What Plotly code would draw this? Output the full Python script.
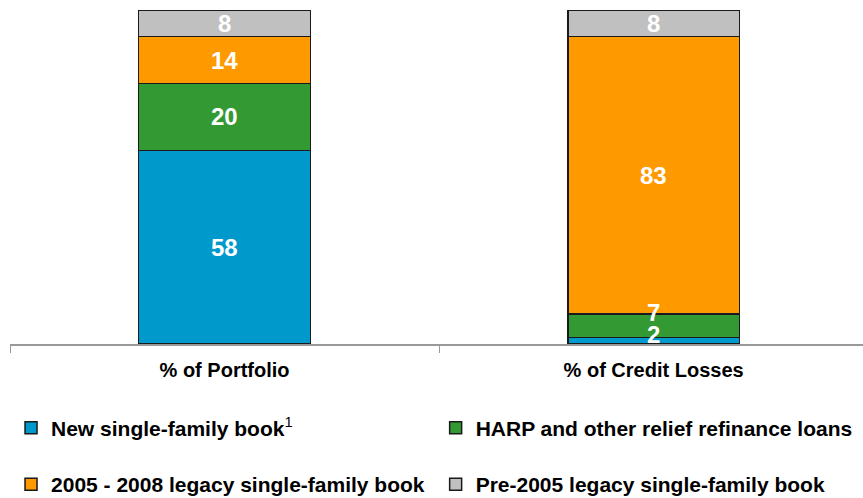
import plotly.graph_objects as go

categories = ["% of Portfolio", "% of Credit Losses"]
series_names = [
    "New single-family book<sup><span style='font-weight:normal'>1</span></sup>",
    "HARP and other relief refinance loans",
    "2005 - 2008 legacy single-family book",
    "Pre-2005 legacy single-family book",
]
new_book = [58, 2]
harp = [20, 7]
legacy_0508 = [14, 83]
pre_2005 = [8, 8]
series_values = [new_book, harp, legacy_0508, pre_2005]

colors = ["#0099CC", "#339933", "#FF9900", "#C0C0C0"]
legend_ids = ["legend", "legend2", "legend3", "legend4"]
# (series index, category index) -> upward nudge of the value label in px
label_nudge = {(0, 1): 6, (1, 1): 13}

FONT = "Liberation Sans, Arial, sans-serif"

fig = go.Figure()
for name, vals, col, lg in zip(series_names, series_values, colors, legend_ids):
    fig.add_trace(go.Bar(
        x=categories, y=vals, name=name,
        marker=dict(color=col, line=dict(color="#1a1a1a", width=1.5)),
        legend=lg, hoverinfo="x+y",
    ))

# value labels at the middle of each stacked segment
base = [0] * len(categories)
for si, vals in enumerate(series_values):
    for ci, v in enumerate(vals):
        fig.add_annotation(
            x=categories[ci], y=base[ci] + v / 2, xref="x", yref="y",
            text=str(v), showarrow=False,
            yshift=label_nudge.get((si, ci), 0),
            font=dict(family=FONT, size=24, color="white", weight="bold"),
        )
        base[ci] += v

legend_style = dict(
    orientation="h", xanchor="left", yanchor="middle",
    bgcolor="rgba(0,0,0,0)", borderwidth=0,
    font=dict(family=FONT, size=21, color="black", weight="bold"),
    itemclick=False, itemdoubleclick=False,
)

fig.update_layout(
    barmode="stack", bargap=0.6,
    width=863, height=498,
    margin=dict(l=10, r=0, t=10, b=154, autoexpand=False),
    plot_bgcolor="white", paper_bgcolor="white",
    font=dict(family=FONT, size=20, color="black"),
    showlegend=True,
    xaxis=dict(
        type="category", range=[-0.5, 1.488],
        showline=True, linecolor="#999999", linewidth=2,
        ticks="outside", tickson="boundaries", ticklen=7, tickcolor="#999999", tickwidth=1,
        tickfont=dict(family=FONT, size=20, color="black", weight="bold"),
        ticklabelstandoff=7, showgrid=False,
    ),
    yaxis=dict(range=[0, 100], visible=False, showgrid=False),
    legend=dict(legend_style, x=0.0012, y=-0.2515),
    legend2=dict(legend_style, x=0.4990, y=-0.2515),
    legend3=dict(legend_style, x=0.0012, y=-0.4207),
    legend4=dict(legend_style, x=0.4990, y=-0.4207),
)

fig.write_html(
    "out.html",
    config={"displayModeBar": False},
    post_script="document.body.style.margin='0';",
)
